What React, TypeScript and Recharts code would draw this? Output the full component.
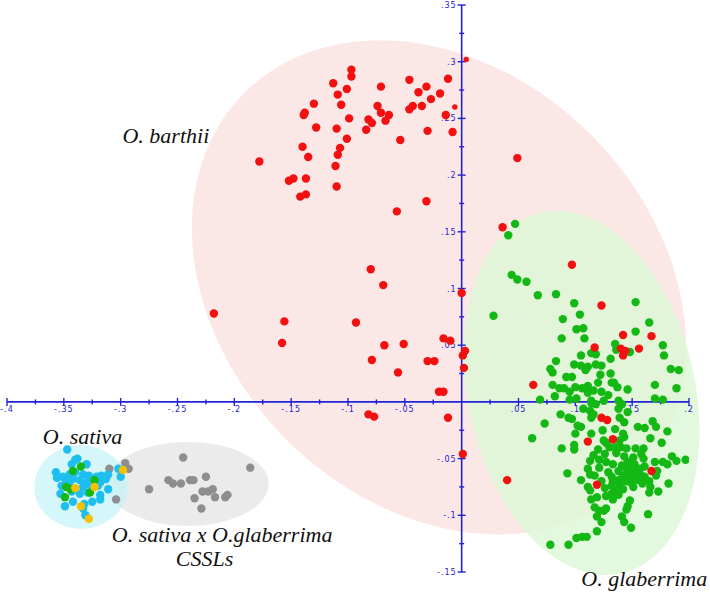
import React from 'react';
import {
  ScatterChart,
  Scatter,
  XAxis,
  YAxis,
  ReferenceLine,
  ReferenceArea,
  ReferenceDot,
} from 'recharts';

// ---------- axis ticks ----------
const xMajorTicks = [-0.4, -0.35, -0.3, -0.25, -0.2, -0.15, -0.1, -0.05, 0.05, 0.1, 0.15, 0.2];
const xMajorLabels = ['-.4', '-.35', '-.3', '-.25', '-.2', '-.15', '-.1', '-.05', '.05', '.1', '.15', '.2'];
const xMinorTicks = [-0.375, -0.325, -0.275, -0.225, -0.175, -0.125, -0.075, -0.025, 0.025, 0.075, 0.125, 0.175];
const yMajorTicks = [0.35, 0.3, 0.25, 0.2, 0.15, 0.1, 0.05, -0.05, -0.1, -0.15];
const yMajorLabels = ['.35', '.3', '.25', '.2', '.15', '.1', '.05', '-.05', '-.1', '-.15'];
const yMinorTicks = [0.325, 0.275, 0.225, 0.175, 0.125, 0.075, 0.025, -0.025, -0.075, -0.125];

// ---------- series (PC1, PC2) ----------
const barthii: [number, number][] = [
  [-0.097, 0.293], [-0.097, 0.287], [-0.113, 0.281], [-0.101, 0.276], [-0.109, 0.271], [-0.071, 0.278],
  [-0.046, 0.284], [-0.038, 0.273], [-0.031, 0.278], [-0.019, 0.272], [-0.012, 0.285], [-0.027, 0.267],
  [-0.035, 0.261], [-0.043, 0.261], [-0.046, 0.258], [-0.014, 0.253], [-0.008, 0.238], [-0.030, 0.239],
  [-0.054, 0.231], [-0.074, 0.261], [-0.071, 0.255], [-0.064, 0.253], [-0.067, 0.248], [-0.082, 0.249],
  [-0.079, 0.246], [-0.084, 0.240], [-0.106, 0.262], [-0.099, 0.250], [-0.110, 0.241], [-0.101, 0.232],
  [-0.107, 0.224], [-0.109, 0.218], [-0.111, 0.208], [-0.110, 0.190], [-0.130, 0.263], [-0.138, 0.255],
  [-0.139, 0.253], [-0.128, 0.242], [-0.140, 0.225], [-0.135, 0.216], [-0.137, 0.197], [-0.152, 0.195],
  [-0.148, 0.197], [-0.142, 0.181], [-0.137, 0.183], [-0.178, 0.212], [-0.031, 0.177], [-0.057, 0.168],
  [0.049, 0.215], [0.036, 0.154], [0.097, 0.121], [-0.080, 0.117], [-0.069, 0.103], [0.000, 0.096],
  [-0.218, 0.078], [-0.156, 0.071], [-0.093, 0.070], [-0.158, 0.052], [-0.068, 0.050], [-0.051, 0.051],
  [-0.016, 0.056], [-0.010, 0.054], [0.001, 0.041], [0.003, 0.045], [-0.079, 0.037], [-0.030, 0.036],
  [-0.024, 0.036], [0.002, 0.030], [-0.056, 0.026], [-0.020, 0.009], [-0.016, 0.009], [-0.082, -0.011],
  [-0.077, -0.013], [-0.012, -0.014], [0.001, -0.046], [0.040, -0.069], [0.063, 0.015], [0.123, 0.085],
  [0.142, 0.059], [0.167, 0.058], [0.117, 0.048], [0.140, 0.047], [0.144, 0.045], [0.142, 0.041],
  [0.156, 0.047], [0.123, -0.014], [0.128, -0.016], [0.111, -0.035], [0.133, -0.033], [0.167, -0.061],
  [0.119, -0.073],
];
const barthiiMinor: [number, number][] = [[0.004, 0.302], [-0.006, 0.26]];

const glaberrima: [number, number][] = [
  [0.047, 0.157], [0.041, 0.147], [0.044, 0.112], [0.049, 0.108], [0.057, 0.106], [0.067, 0.094],
  [0.083, 0.095], [0.028, 0.076], [0.099, 0.087], [0.104, 0.077], [0.089, 0.073], [0.101, 0.064],
  [0.107, 0.065], [0.108, 0.056], [0.088, 0.056], [0.153, 0.088], [0.165, 0.070], [0.153, 0.062],
  [0.177, 0.050], [0.178, 0.041], [0.135, 0.051], [0.136, 0.046], [0.148, 0.044], [0.114, 0.043],
  [0.118, 0.042], [0.105, 0.041], [0.131, 0.038], [0.083, 0.036], [0.099, 0.033], [0.105, 0.032],
  [0.111, 0.031], [0.118, 0.033], [0.123, 0.032], [0.109, 0.028], [0.078, 0.029], [0.080, 0.026],
  [0.184, 0.029], [0.191, 0.028], [0.092, 0.022], [0.097, 0.022], [0.122, 0.024], [0.131, 0.025],
  [0.080, 0.015], [0.086, 0.012], [0.090, 0.012], [0.100, 0.013], [0.095, 0.009], [0.106, 0.012],
  [0.111, 0.014], [0.120, 0.017], [0.132, 0.017], [0.134, 0.017], [0.137, 0.013], [0.111, 0.008],
  [0.116, 0.010], [0.123, 0.009], [0.129, 0.006], [0.146, 0.011], [0.170, 0.015], [0.189, 0.012],
  [0.082, 0.005], [0.170, 0.003], [0.177, 0.002], [0.069, 0.002], [0.095, 0.002], [0.101, 0.003],
  [0.114, 0.001], [0.125, 0.001], [0.138, 0.001], [0.114, -0.001], [0.118, -0.002], [0.107, -0.006],
  [0.113, -0.008], [0.087, -0.011], [0.094, -0.014], [0.097, -0.015], [0.114, -0.014], [0.116, -0.011],
  [0.138, -0.006], [0.141, -0.002], [0.139, -0.014], [0.143, -0.018], [0.146, -0.009], [0.073, -0.019],
  [0.102, -0.021], [0.105, -0.022], [0.124, -0.025], [0.135, -0.024], [0.142, -0.028], [0.155, -0.022],
  [0.161, -0.023], [0.168, -0.017], [0.171, -0.022], [0.181, -0.026], [0.062, -0.032], [0.100, -0.028],
  [0.114, -0.028], [0.125, -0.034], [0.139, -0.034], [0.143, -0.031], [0.166, -0.032], [0.176, -0.036],
  [0.088, -0.041], [0.099, -0.038], [0.099, -0.042], [0.120, -0.042], [0.127, -0.036], [0.130, -0.040],
  [0.135, -0.040], [0.140, -0.040], [0.145, -0.041], [0.153, -0.041], [0.160, -0.041], [0.116, -0.047],
  [0.126, -0.046], [0.136, -0.045], [0.143, -0.048], [0.151, -0.049], [0.158, -0.046], [0.160, -0.050],
  [0.113, -0.052], [0.121, -0.051], [0.127, -0.053], [0.133, -0.055], [0.170, -0.053], [0.177, -0.053],
  [0.181, -0.055], [0.185, -0.048], [0.189, -0.052], [0.197, -0.051], [0.111, -0.059], [0.121, -0.058],
  [0.129, -0.062], [0.138, -0.061], [0.145, -0.059], [0.151, -0.056], [0.154, -0.061], [0.093, -0.063],
  [0.113, -0.064], [0.117, -0.065], [0.142, -0.065], [0.148, -0.064], [0.151, -0.066], [0.158, -0.065],
  [0.171, -0.065], [0.172, -0.061], [0.105, -0.069], [0.123, -0.070], [0.133, -0.070], [0.138, -0.069],
  [0.145, -0.070], [0.149, -0.071], [0.155, -0.069], [0.159, -0.072], [0.182, -0.072], [0.111, -0.075],
  [0.126, -0.076], [0.132, -0.074], [0.136, -0.078], [0.142, -0.077], [0.151, -0.075], [0.166, -0.075],
  [0.173, -0.079], [0.165, -0.080], [0.113, -0.078], [0.127, -0.083], [0.132, -0.081], [0.138, -0.082],
  [0.114, -0.086], [0.119, -0.084], [0.133, -0.086], [0.148, -0.087], [0.117, -0.093], [0.127, -0.094],
  [0.146, -0.092], [0.121, -0.096], [0.125, -0.096], [0.145, -0.095], [0.164, -0.099], [0.119, -0.101],
  [0.141, -0.101], [0.123, -0.106], [0.143, -0.106], [0.149, -0.111], [0.119, -0.114], [0.101, -0.120],
  [0.106, -0.119], [0.110, -0.119], [0.078, -0.126], [0.094, -0.126], [0.146, -0.053], [0.152, -0.055],
  [0.157, -0.059], [0.161, -0.057], [0.141, -0.056], [0.148, -0.059], [0.155, -0.063], [0.145, -0.066],
  [0.161, -0.066], [0.165, -0.070], [0.139, -0.073], [0.132, -0.066],
];

const sativaBlue: [number, number][] = [
  [-0.347, -0.042], [-0.340, -0.051], [-0.338, -0.050], [-0.330, -0.055], [-0.343, -0.055], [-0.357, -0.062],
  [-0.351, -0.066], [-0.356, -0.067], [-0.345, -0.064], [-0.340, -0.062], [-0.333, -0.064], [-0.328, -0.065],
  [-0.321, -0.066], [-0.317, -0.065], [-0.311, -0.064], [-0.300, -0.066], [-0.302, -0.059], [-0.348, -0.069],
  [-0.342, -0.068], [-0.336, -0.069], [-0.330, -0.071], [-0.324, -0.069], [-0.318, -0.071], [-0.313, -0.068],
  [-0.352, -0.074], [-0.345, -0.074], [-0.333, -0.075], [-0.327, -0.073], [-0.320, -0.074], [-0.311, -0.077],
  [-0.353, -0.081], [-0.343, -0.079], [-0.336, -0.081], [-0.329, -0.080], [-0.318, -0.082], [-0.342, -0.088],
  [-0.332, -0.090], [-0.325, -0.088], [-0.318, -0.086], [-0.349, -0.092], [-0.333, -0.094], [-0.331, -0.100],
];
const sativaGreen: [number, number][] = [
  [-0.335, -0.057], [-0.342, -0.061], [-0.323, -0.069], [-0.348, -0.075], [-0.344, -0.077], [-0.349, -0.084],
  [-0.327, -0.080],
];
const sativaYellow: [number, number][] = [
  [-0.298, -0.060], [-0.340, -0.076], [-0.335, -0.092], [-0.328, -0.103], [-0.323, -0.075],
];
const cssl: [number, number][] = [
  [-0.310, -0.059], [-0.296, -0.054], [-0.293, -0.059], [-0.304, -0.086], [-0.275, -0.077], [-0.245, -0.049],
  [-0.258, -0.069], [-0.254, -0.072], [-0.247, -0.072], [-0.239, -0.069], [-0.236, -0.069], [-0.225, -0.066],
  [-0.235, -0.085], [-0.229, -0.094], [-0.228, -0.079], [-0.223, -0.079], [-0.219, -0.077], [-0.217, -0.084],
  [-0.208, -0.084], [-0.206, -0.082], [-0.186, -0.058],
];

// ---------- group ellipses (centre, semi-axes in data units, tilt) ----------
const ellipses = [
  { key: 'barthii', cx: -0.02, cy: 0.101, rx: 0.242, ry: 0.19, angle: 45, fill: '#f7d2cd', opacity: 0.5 },
  { key: 'cssl', cx: -0.241, cy: -0.0723, rx: 0.0712, ry: 0.037, angle: 0, fill: '#e4e4e4', opacity: 0.75 },
  { key: 'sativa', cx: -0.335, cy: -0.075, rx: 0.041, ry: 0.037, angle: 0, fill: '#c4f3f8', opacity: 0.7 },
  { key: 'glaberrima', cx: 0.1055, cy: 0.008, rx: 0.1, ry: 0.163, angle: -12.4, fill: '#dcf7d4', opacity: 0.8 },
];

// ---------- group labels (text, anchor in data units) ----------
const groupLabels = [
  { text: 'O. barthii', x: -0.2984, y: 0.2281 },
  { text: 'O. sativa', x: -0.3685, y: -0.037 },
  { text: 'O. sativa x O.glaberrima', x: -0.3078, y: -0.1235 },
  { text: 'CSSLs', x: -0.2515, y: -0.1451 },
  { text: 'O. glaberrima', x: 0.1053, y: -0.1623 },
];

const AXIS_BLUE = '#2222d6';
const toPts = (a: [number, number][]) => a.map(([x, y]) => ({ x, y }));

const dot = (color: string, r: number) => (props: any) => (
  <circle cx={props.cx} cy={props.cy} r={r} fill={color} />
);

const ellipseShape = (angle: number, fill: string, opacity: number) => (p: any) => {
  const cx = p.x + p.width / 2;
  const cy = p.y + p.height / 2;
  return (
    <ellipse
      cx={cx}
      cy={cy}
      rx={Math.abs(p.width) / 2}
      ry={Math.abs(p.height) / 2}
      transform={`rotate(${angle} ${cx} ${cy})`}
      fill={fill}
      fillOpacity={opacity}
      stroke="none"
    />
  );
};

const tickFont = { fontFamily: 'DejaVu Sans, sans-serif', fontSize: 8, letterSpacing: 1 };

const xTickShape = (label: string | null, half: number) => (p: any) => (
  <g>
    <line x1={p.cx} x2={p.cx} y1={p.cy - half} y2={p.cy + half} stroke={AXIS_BLUE} strokeWidth={1.4} />
    {label && (
      <text x={p.cx} y={p.cy + 10} textAnchor="middle" fill={AXIS_BLUE} style={tickFont}>
        {label}
      </text>
    )}
  </g>
);

const yTickShape = (label: string | null, half: number) => (p: any) => (
  <g>
    <line x1={p.cx - half} x2={p.cx + half} y1={p.cy} y2={p.cy} stroke={AXIS_BLUE} strokeWidth={1.4} />
    {label && (
      <text x={p.cx - 5} y={p.cy + 3} textAnchor="end" fill={AXIS_BLUE} style={tickFont}>
        {label}
      </text>
    )}
  </g>
);

const labelShape = (text: string) => (p: any) => (
  <text
    x={p.cx}
    y={p.cy}
    fill="#111"
    style={{ fontFamily: 'Liberation Serif, Times New Roman, serif', fontStyle: 'italic', fontSize: 22 }}
  >
    {text}
  </text>
);

export default function App() {
  return (
    <div style={{ position: 'absolute', left: 0, top: 0, width: 710, height: 593, background: '#fff' }}>
      <ScatterChart width={710} height={593} margin={{ top: 5, right: 21, bottom: 21, left: 7 }}>
        <XAxis type="number" dataKey="x" domain={[-0.4, 0.2]} allowDataOverflow hide />
        <YAxis type="number" dataKey="y" domain={[-0.15, 0.35]} allowDataOverflow hide />

        {ellipses.map((e) => (
          <ReferenceArea
            key={e.key}
            x1={e.cx - e.rx}
            x2={e.cx + e.rx}
            y1={e.cy - e.ry}
            y2={e.cy + e.ry}
            ifOverflow="visible"
            shape={ellipseShape(e.angle, e.fill, e.opacity)}
          />
        ))}

        <ReferenceLine y={0} stroke={AXIS_BLUE} strokeWidth={1.6} />
        <ReferenceLine x={0} stroke={AXIS_BLUE} strokeWidth={1.6} />

        {xMinorTicks.map((t) => (
          <ReferenceDot key={`xm${t}`} x={t} y={0} r={1} ifOverflow="visible" shape={xTickShape(null, 2.5)} />
        ))}
        {xMajorTicks.map((t, i) => (
          <ReferenceDot key={`xM${t}`} x={t} y={0} r={1} ifOverflow="visible" shape={xTickShape(xMajorLabels[i], 4)} />
        ))}
        {yMinorTicks.map((t) => (
          <ReferenceDot key={`ym${t}`} x={0} y={t} r={1} ifOverflow="visible" shape={yTickShape(null, 2.5)} />
        ))}
        {yMajorTicks.map((t, i) => (
          <ReferenceDot key={`yM${t}`} x={0} y={t} r={1} ifOverflow="visible" shape={yTickShape(yMajorLabels[i], 4)} />
        ))}

        <Scatter name="CSSLs" data={toPts(cssl)} isAnimationActive={false} shape={dot('#8e8e8e', 4.2)} />
        <Scatter name="O. sativa" data={toPts(sativaBlue)} isAnimationActive={false} shape={dot('#1ebef0', 4.2)} />
        <Scatter name="O. sativa (g)" data={toPts(sativaGreen)} isAnimationActive={false} shape={dot('#16b816', 4.2)} />
        <Scatter name="O. sativa (y)" data={toPts(sativaYellow)} isAnimationActive={false} shape={dot('#f6c200', 4.2)} />
        <Scatter name="O. glaberrima" data={toPts(glaberrima)} isAnimationActive={false} shape={dot('#14b814', 4.2)} />
        <Scatter name="O. barthii" data={toPts(barthii)} isAnimationActive={false} shape={dot('#f21010', 4.2)} />
        <Scatter name="O. barthii (s)" data={toPts(barthiiMinor)} isAnimationActive={false} shape={dot('#f21010', 2.7)} />

        {groupLabels.map((g) => (
          <ReferenceDot key={g.text} x={g.x} y={g.y} r={1} ifOverflow="visible" shape={labelShape(g.text)} />
        ))}
      </ScatterChart>
    </div>
  );
}
